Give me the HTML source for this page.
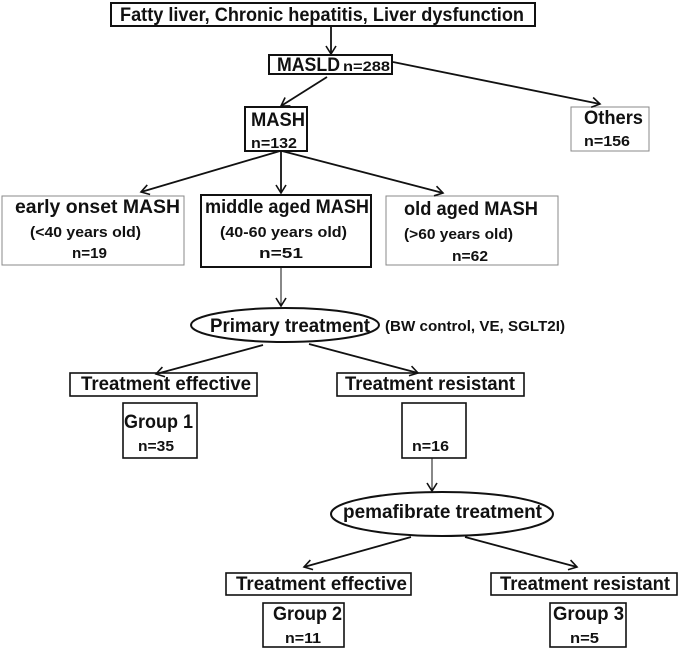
<!DOCTYPE html>
<html><head><meta charset="utf-8"><style>
html,body{margin:0;padding:0;background:#fff;}
svg{display:block;}
text{font-family:"Liberation Sans",sans-serif;font-weight:bold;fill:#111;}
</style></head><body>
<svg width="682" height="649" viewBox="0 0 682 649" xmlns="http://www.w3.org/2000/svg">
<defs>
<marker id="a" markerWidth="12" markerHeight="12" refX="10" refY="6" orient="auto" markerUnits="userSpaceOnUse">
<polyline points="2,1 10,6 2,11" fill="none" stroke="#111" stroke-width="1.6"/>
</marker>
</defs>
<g fill="#fff" stroke="#111">
<rect x="111" y="3" width="424" height="23" stroke-width="2"/>
<rect x="269" y="55" width="123" height="19" stroke-width="2"/>
<rect x="245" y="107" width="62" height="44" stroke-width="2"/>
<rect x="571" y="107" width="78" height="44" stroke="#888" stroke-width="1"/>
<rect x="2" y="196" width="182" height="69" stroke="#888" stroke-width="1"/>
<rect x="201" y="195" width="170" height="72" stroke-width="2"/>
<rect x="386" y="196" width="172" height="69" stroke="#888" stroke-width="1"/>
<ellipse cx="285" cy="325" rx="94" ry="17" stroke-width="2"/>
<rect x="70" y="373" width="187" height="23" stroke-width="1.6"/>
<rect x="337" y="373" width="187" height="23" stroke-width="1.6"/>
<rect x="123" y="403" width="74" height="55" stroke-width="1.6"/>
<rect x="402" y="403" width="64" height="55" stroke-width="1.6"/>
<ellipse cx="442" cy="514" rx="111" ry="22" stroke-width="2"/>
<rect x="226" y="573" width="185" height="22" stroke-width="1.6"/>
<rect x="491" y="573" width="186" height="22" stroke-width="1.6"/>
<rect x="263" y="603" width="81" height="44" stroke-width="1.6"/>
<rect x="550" y="603" width="76" height="44" stroke-width="1.6"/>
</g>
<g stroke="#111" stroke-width="1.8" fill="none" marker-end="url(#a)">
<line x1="331" y1="26" x2="331" y2="54"/>
<line x1="327" y1="77" x2="281" y2="106"/>
<line x1="393" y1="62" x2="600" y2="104"/>
<line x1="280" y1="151" x2="141" y2="192"/>
<line x1="281" y1="151" x2="281" y2="193"/>
<line x1="282" y1="151" x2="443" y2="193"/>
<line x1="281" y1="268" x2="281" y2="306" stroke-width="1"/>
<line x1="263" y1="345" x2="156" y2="374"/>
<line x1="309" y1="344" x2="418" y2="373"/>
<line x1="432" y1="458" x2="432" y2="491" stroke-width="1"/>
<line x1="411" y1="537" x2="304" y2="567"/>
<line x1="465" y1="537" x2="577" y2="567"/>
</g>
<text x="120" y="21" font-size="19" textLength="404" lengthAdjust="spacingAndGlyphs">Fatty liver, Chronic hepatitis, Liver dysfunction</text>
<text x="277" y="71" font-size="19" textLength="63" lengthAdjust="spacingAndGlyphs">MASLD</text>
<text x="343" y="71" font-size="14" textLength="47" lengthAdjust="spacingAndGlyphs">n=288</text>
<text x="251" y="126" font-size="19" textLength="54" lengthAdjust="spacingAndGlyphs">MASH</text>
<text x="251" y="148" font-size="15" textLength="46" lengthAdjust="spacingAndGlyphs">n=132</text>
<text x="584" y="124" font-size="19" textLength="59" lengthAdjust="spacingAndGlyphs">Others</text>
<text x="584" y="146" font-size="15" textLength="46" lengthAdjust="spacingAndGlyphs">n=156</text>
<text x="15" y="213" font-size="19" textLength="165" lengthAdjust="spacingAndGlyphs">early onset   MASH</text>
<text x="30" y="237" font-size="15" textLength="111" lengthAdjust="spacingAndGlyphs">(&lt;40 years old)</text>
<text x="72" y="258" font-size="15" textLength="35" lengthAdjust="spacingAndGlyphs">n=19</text>
<text x="205" y="213" font-size="19" textLength="164" lengthAdjust="spacingAndGlyphs">middle aged MASH</text>
<text x="220" y="237" font-size="15" textLength="127" lengthAdjust="spacingAndGlyphs">(40-60 years old)</text>
<text x="259" y="258" font-size="15" textLength="44" lengthAdjust="spacingAndGlyphs">n=51</text>
<text x="404" y="215" font-size="19" textLength="134" lengthAdjust="spacingAndGlyphs">old aged MASH</text>
<text x="404" y="239" font-size="15" textLength="109" lengthAdjust="spacingAndGlyphs">(&gt;60 years old)</text>
<text x="452" y="261" font-size="15" textLength="36" lengthAdjust="spacingAndGlyphs">n=62</text>
<text x="210" y="332" font-size="19" textLength="160" lengthAdjust="spacingAndGlyphs">Primary treatment</text>
<text x="385" y="331" font-size="15" textLength="180" lengthAdjust="spacingAndGlyphs">(BW control, VE, SGLT2I)</text>
<text x="81" y="390" font-size="19" textLength="170" lengthAdjust="spacingAndGlyphs">Treatment effective</text>
<text x="345" y="390" font-size="19" textLength="170" lengthAdjust="spacingAndGlyphs">Treatment resistant</text>
<text x="124" y="428" font-size="19" textLength="69" lengthAdjust="spacingAndGlyphs">Group 1</text>
<text x="138" y="451" font-size="15" textLength="36" lengthAdjust="spacingAndGlyphs">n=35</text>
<text x="412" y="451" font-size="15" textLength="37" lengthAdjust="spacingAndGlyphs">n=16</text>
<text x="343" y="518" font-size="19" textLength="199" lengthAdjust="spacingAndGlyphs">pemafibrate treatment</text>
<text x="236" y="590" font-size="19" textLength="171" lengthAdjust="spacingAndGlyphs">Treatment effective</text>
<text x="500" y="590" font-size="19" textLength="170" lengthAdjust="spacingAndGlyphs">Treatment resistant</text>
<text x="273" y="620" font-size="19" textLength="69" lengthAdjust="spacingAndGlyphs">Group 2</text>
<text x="285" y="643" font-size="15" textLength="36" lengthAdjust="spacingAndGlyphs">n=11</text>
<text x="553" y="620" font-size="19" textLength="71" lengthAdjust="spacingAndGlyphs">Group 3</text>
<text x="570" y="643" font-size="15" textLength="29" lengthAdjust="spacingAndGlyphs">n=5</text>
</svg>
</body></html>
